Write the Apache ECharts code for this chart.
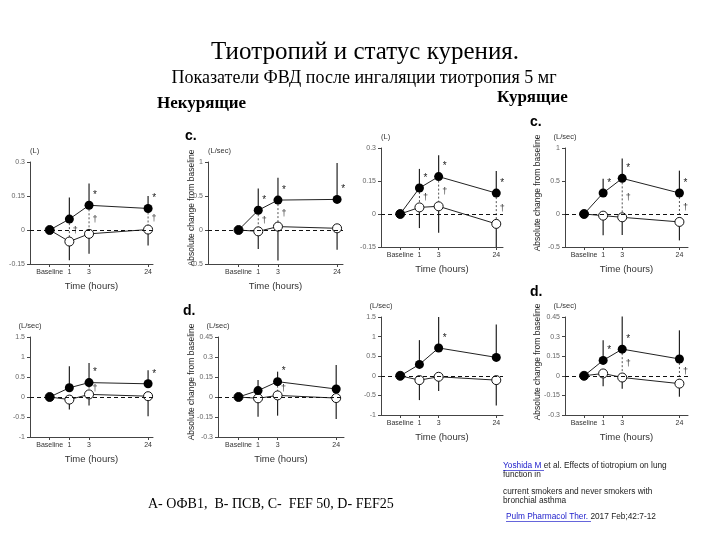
<!DOCTYPE html>
<html>
<head>
<meta charset="utf-8">
<title>Тиотропий и статус курения</title>
<script src="https://cdn.jsdelivr.net/npm/echarts@6.0.0/dist/echarts.min.js"></script>
<style>
  html, body { margin: 0; padding: 0; background: #fff; }
  #chart { width: 720px; height: 540px; }
</style>
</head>
<body>
<div id="chart"></div>
<script>
// time points shown on every x axis
const timeLabels = ["Baseline", "1", "3", "24"];

// --- never smokers ---
// FEV1 (L)
const neverFev1Solid = [0, 0.048, 0.109, 0.095];
const neverFev1SolidHi = [null, 0.143, 0.205, 0.15];
const neverFev1Open = [0, -0.051, -0.017, 0.002];
const neverFev1OpenLo = [null, -0.134, -0.105, -0.068];
const neverFev1Star = [0, 0, 1, 1];
const neverFev1Dagger = [0, 1, 1, 1];
// panel c. (L/sec)
const neverCSolid = [0, 0.29, 0.44, 0.45];
const neverCSolidHi = [null, 0.61, 0.77, 0.985];
const neverCOpen = [0, -0.02, 0.05, 0.025];
const neverCOpenLo = [null, -0.28, -0.45, -0.29];
const neverCStar = [0, 1, 1, 1];
const neverCDagger = [0, 1, 1, 0];
// lower left (L/sec)
const neverPefSolid = [0, 0.23, 0.36, 0.33];
const neverPefSolidHi = [null, 0.77, 0.85, 0.67];
const neverPefOpen = [0, -0.065, 0.065, 0.02];
const neverPefOpenLo = [null, -0.31, -0.21, -0.48];
const neverPefStar = [0, 0, 1, 1];
const neverPefDagger = [0, 0, 1, 0];
// panel d. (L/sec)
const neverDSolid = [0, 0.048, 0.115, 0.06];
const neverDSolidHi = [null, 0.128, 0.19, 0.24];
const neverDOpen = [0, -0.01, 0.012, -0.008];
const neverDOpenLo = [null, -0.148, -0.14, -0.165];
const neverDStar = [0, 0, 1, 0];
const neverDDagger = [0, 0, 1, 0];

// --- current smokers ---
const smokerFev1Solid = [0, 0.118, 0.17, 0.095];
const smokerFev1SolidHi = [null, 0.205, 0.267, 0.195];
const smokerFev1Open = [0, 0.03, 0.035, -0.045];
const smokerFev1OpenLo = [null, -0.064, -0.085, -0.15];
const smokerFev1Star = [0, 1, 1, 1];
const smokerFev1Dagger = [0, 1, 1, 1];

const smokerCSolid = [0, 0.318, 0.54, 0.318];
const smokerCSolidHi = [null, 0.535, 0.84, 0.657];
const smokerCOpen = [0, -0.025, -0.05, -0.12];
const smokerCOpenLo = [null, -0.323, -0.32, -0.4];
const smokerCStar = [0, 1, 1, 1];
const smokerCDagger = [0, 0, 1, 1];

const smokerPefSolid = [0, 0.29, 0.71, 0.47];
const smokerPefSolidHi = [null, 0.91, 1.5, 1.31];
const smokerPefOpen = [0, -0.11, -0.025, -0.11];
const smokerPefOpenLo = [null, -0.62, -0.39, -0.76];
const smokerPefStar = [0, 0, 1, 0];
const smokerPefDagger = [0, 0, 0, 0];

const smokerDSolid = [0, 0.118, 0.204, 0.129];
const smokerDSolidHi = [null, 0.272, 0.454, 0.348];
const smokerDOpen = [0, 0.018, -0.013, -0.06];
const smokerDOpenLo = [null, -0.08, -0.1, -0.16];
const smokerDStar = [0, 1, 1, 0];
const smokerDDagger = [0, 0, 1, 1];

// the hours axis is not linear in the figure: baseline,1,3 evenly, 24 further out
const slotPos = [0, 1, 2, 5];

const panels = [
  { solid: neverFev1Solid, hi: neverFev1SolidHi, open: neverFev1Open, lo: neverFev1OpenLo, star: neverFev1Star, dag: neverFev1Dagger,
    box: [30, 162, 123, 102], x: [-1, 5.25], y: [-0.15, 0.3, 0.15], unit: "(L)", unitAlign: "left" },
  { solid: neverCSolid, hi: neverCSolidHi, open: neverCOpen, lo: neverCOpenLo, star: neverCStar, dag: neverCDagger,
    box: [208, 162, 135, 102], x: [-1.55, 5.3], y: [-0.5, 1, 0.5], unit: "(L/sec)", unitAlign: "left" },
  { solid: smokerFev1Solid, hi: smokerFev1SolidHi, open: smokerFev1Open, lo: smokerFev1OpenLo, star: smokerFev1Star, dag: smokerFev1Dagger,
    box: [381, 148, 122, 99], x: [-1, 5.35], y: [-0.15, 0.3, 0.15], unit: "(L)", unitAlign: "left" },
  { solid: smokerCSolid, hi: smokerCSolidHi, open: smokerCOpen, lo: smokerCOpenLo, star: smokerCStar, dag: smokerCDagger,
    box: [565, 148, 123, 99], x: [-1, 5.45], y: [-0.5, 1, 0.5], unit: "(L/sec)", unitAlign: "center" },
  { solid: neverPefSolid, hi: neverPefSolidHi, open: neverPefOpen, lo: neverPefOpenLo, star: neverPefStar, dag: neverPefDagger,
    box: [30, 337, 123, 100], x: [-1, 5.25], y: [-1, 1.5, 0.5], unit: "(L/sec)", unitAlign: "center" },
  { solid: neverDSolid, hi: neverDSolidHi, open: neverDOpen, lo: neverDOpenLo, star: neverDStar, dag: neverDDagger,
    box: [218, 337, 126, 100], x: [-1.05, 5.4], y: [-0.3, 0.45, 0.15], unit: "(L/sec)", unitAlign: "center" },
  { solid: smokerPefSolid, hi: smokerPefSolidHi, open: smokerPefOpen, lo: smokerPefOpenLo, star: smokerPefStar, dag: smokerPefDagger,
    box: [381, 317, 122, 98], x: [-1, 5.35], y: [-1, 1.5, 0.5], unit: "(L/sec)", unitAlign: "center" },
  { solid: smokerDSolid, hi: smokerDSolidHi, open: smokerDOpen, lo: smokerDOpenLo, star: smokerDStar, dag: smokerDDagger,
    box: [565, 317, 123, 98], x: [-1, 5.45], y: [-0.3, 0.45, 0.15], unit: "(L/sec)", unitAlign: "center" },
];

const axisColor = "#444";
const grid = [], xAxis = [], yAxis = [], series = [];

const renderErr = (params, api) => {
  const a = api.coord([api.value(0), api.value(1)]);
  const b = api.coord([api.value(0), api.value(2)]);
  return {
    type: "line",
    shape: { x1: a[0], y1: a[1], x2: b[0], y2: b[1] },
    style: { stroke: "#222", lineWidth: 1.2 },
  };
};

const renderMarks = (params, api) => {
  const top = api.coord([api.value(0), api.value(1)]);
  const bot = api.coord([api.value(0), api.value(2)]);
  const children = [];
  if (api.value(4)) {
    children.push({
      type: "line",
      shape: { x1: top[0], y1: top[1], x2: bot[0], y2: bot[1] },
      style: { stroke: "#555", lineWidth: 1, lineDash: [2, 2] },
    });
    children.push({
      type: "text",
      x: top[0] + 6, y: (top[1] + bot[1]) / 2,
      style: { text: "†", fill: "#333", font: "9px Liberation Sans", align: "center", verticalAlign: "middle" },
    });
  }
  if (api.value(3)) {
    children.push({
      type: "text",
      x: top[0] + 6, y: top[1] - 10,
      style: { text: "*", fill: "#222", font: "10px Liberation Sans", align: "center", verticalAlign: "middle" },
    });
  }
  return { type: "group", children };
};

panels.forEach((p, i) => {
  grid.push({ left: p.box[0], top: p.box[1], width: p.box[2], height: p.box[3] });
  xAxis.push({
    gridIndex: i,
    type: "value",
    min: p.x[0],
    max: p.x[1],
    axisLine: { onZero: false, lineStyle: { color: axisColor } },
    axisTick: { customValues: slotPos, length: 3, lineStyle: { color: axisColor } },
    axisLabel: {
      customValues: slotPos,
      interval: 0,
      hideOverlap: false,
      formatter: (v) => timeLabels[slotPos.indexOf(v)],
      fontSize: 7,
      color: "#333",
      margin: 5,
      fontFamily: "Liberation Sans",
    },
    splitLine: { show: false },
    name: "Time (hours)",
    nameLocation: "middle",
    nameGap: 17,
    nameTextStyle: { fontSize: 9.5, color: "#333", fontFamily: "Liberation Sans" },
  });
  yAxis.push({
    gridIndex: i,
    type: "value",
    min: p.y[0],
    max: p.y[1],
    interval: p.y[2],
    axisLine: { show: true, onZero: false, lineStyle: { color: axisColor } },
    axisTick: { show: true, length: 3, lineStyle: { color: axisColor } },
    axisLabel: {
      fontSize: 7,
      color: "#666",
      margin: 5,
      fontFamily: "Liberation Sans",
      formatter: (v) => String(+v.toFixed(2)),
    },
    splitLine: { show: false },
    name: p.unit,
    nameLocation: "end",
    nameGap: 7,
    nameTextStyle: { fontSize: 7.5, color: "#333", align: p.unitAlign, fontFamily: "Liberation Sans" },
  });

  const errData = [];
  const markData = [];
  slotPos.forEach((s, k) => {
    if (p.hi[k] != null) errData.push([s, p.solid[k], p.hi[k]]);
    if (p.lo[k] != null) errData.push([s, p.open[k], p.lo[k]]);
    markData.push([s, p.solid[k], p.open[k], p.star[k], p.dag[k]]);
  });

  series.push({
    type: "custom",
    xAxisIndex: i,
    yAxisIndex: i,
    z: 2,
    silent: true,
    renderItem: renderErr,
    encode: { x: 0, y: [1, 2] },
    data: errData,
    markLine: {
      silent: true,
      symbol: ["none", "none"],
      label: { show: false },
      lineStyle: { type: [4, 3], color: "#111", width: 1.2 },
      data: [{ yAxis: 0 }],
    },
  });
  series.push({
    type: "custom",
    xAxisIndex: i,
    yAxisIndex: i,
    z: 3,
    silent: true,
    renderItem: renderMarks,
    encode: { x: 0, y: [1, 2] },
    data: markData,
  });
  series.push({
    type: "line",
    xAxisIndex: i,
    yAxisIndex: i,
    z: 4,
    data: slotPos.map((s, k) => [s, p.open[k]]),
    symbol: "circle",
    symbolSize: 9,
    itemStyle: { color: "#fff", borderColor: "#111", borderWidth: 1 },
    lineStyle: { color: "#222", width: 1 },
  });
  series.push({
    type: "line",
    xAxisIndex: i,
    yAxisIndex: i,
    z: 5,
    data: slotPos.map((s, k) => [s, p.solid[k]]),
    symbol: "circle",
    symbolSize: 9,
    itemStyle: { color: "#000" },
    lineStyle: { color: "#222", width: 1 },
  });
});

const serif = "Liberation Serif, Times New Roman, serif";
const sans = "Liberation Sans, Arial, sans-serif";
const txt = (x, y, text, font, extra) => ({
  type: "text",
  x, y,
  style: Object.assign({ text, font, fill: "#000", align: "left", verticalAlign: "middle" }, extra || {}),
});
const yTitle = (x, y) => ({
  type: "text",
  x, y,
  rotation: Math.PI / 2,
  style: { text: "Absolute change from baseline", font: "8.5px " + sans, fill: "#222", align: "center", verticalAlign: "middle" },
});
const link = "#2222cc";
const citeFont = "8.3px " + sans;

const graphic = [
  txt(365, 52, "Тиотропий и статус курения.", "25px " + serif, { align: "center" }),
  txt(364, 78, "Показатели ФВД после ингаляции тиотропия 5 мг", "18px " + serif, { align: "center" }),
  txt(157, 104, "Некурящие", "bold 17px " + serif),
  txt(497, 98, "Курящие", "bold 17px " + serif),
  txt(185, 136, "c.", "bold 14px " + sans),
  txt(530, 122, "c.", "bold 14px " + sans),
  txt(183, 311, "d.", "bold 14px " + sans),
  txt(530, 292, "d.", "bold 14px " + sans),
  yTitle(192, 208),
  yTitle(538, 193),
  yTitle(192, 382),
  yTitle(538, 362),
  txt(148, 504, "A- ОФВ1,  B- ПСВ, C-  FEF 50, D- FEF25", "14px " + serif),
  {
    type: "text", x: 503, y: 466,
    style: {
      text: "{a|Yoshida M} et al. Effects of tiotropium on lung",
      font: citeFont, fill: "#222", verticalAlign: "middle",
      rich: { a: { fill: link, font: citeFont } },
    },
  },
  txt(503, 475, "function in", citeFont, { fill: "#222" }),
  txt(503, 492, "current smokers and never smokers with", citeFont, { fill: "#222" }),
  txt(503, 501, "bronchial asthma", citeFont, { fill: "#222" }),
  {
    type: "text", x: 506, y: 517,
    style: {
      text: "{a|Pulm Pharmacol Ther.} 2017 Feb;42:7-12",
      font: citeFont, fill: "#222", verticalAlign: "middle",
      rich: { a: { fill: link, font: citeFont } },
    },
  },
  { type: "line", shape: { x1: 503, y1: 470.5, x2: 544, y2: 470.5 }, style: { stroke: link, lineWidth: 0.7 } },
  { type: "line", shape: { x1: 506, y1: 521.5, x2: 591, y2: 521.5 }, style: { stroke: link, lineWidth: 0.7 } },
];

const myChart = echarts.init(document.getElementById("chart"));
myChart.setOption({
  animation: false,
  backgroundColor: "#fff",
  grid,
  xAxis,
  yAxis,
  series,
  graphic,
});
</script>
</body>
</html>
